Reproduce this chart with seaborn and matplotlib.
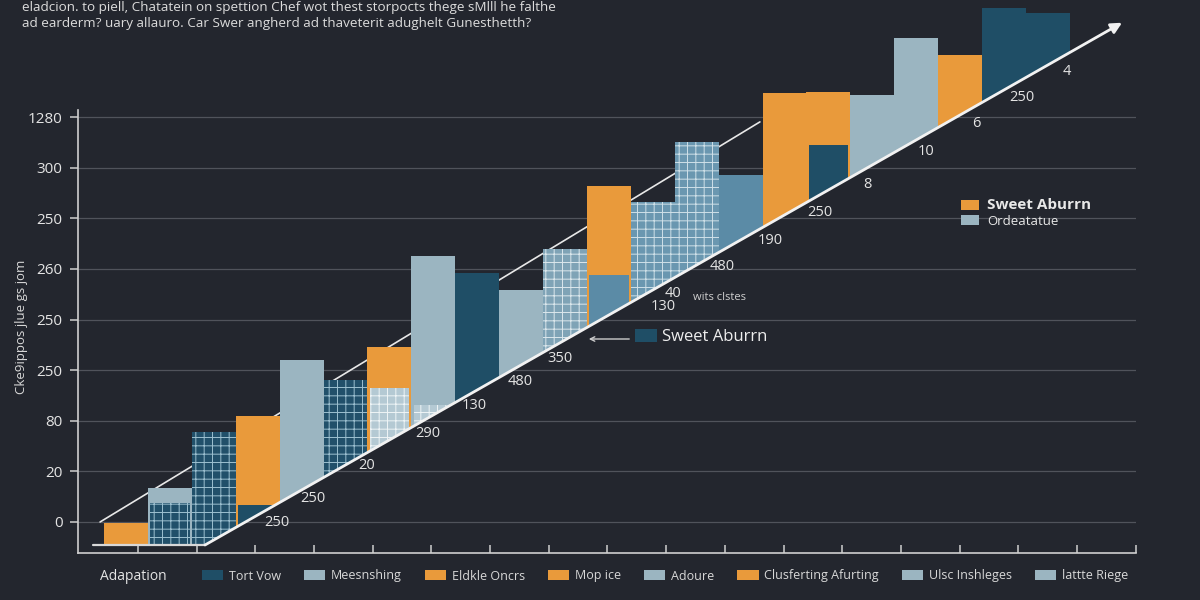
import numpy as np
import pandas as pd
import matplotlib
matplotlib.use("Agg")
import matplotlib.pyplot as plt
from matplotlib.patches import Polygon, Patch
import seaborn as sns

# ---------------- data ----------------
title_lines = [
    "eladcion. to piell, Chatatein on spettion Chef wot thest storpocts thege sMlll he falthe",
    "ad earderm? uary allauro. Car Swer angherd ad thaveterit adughelt Gunesthetth?",
]
y_label = "Cke9ippos jlue gs jom"
y_tick_labels = ["0", "20", "80", "250", "250", "260", "250", "300", "1280"]

columns = [f"B{i:02d}" for i in range(22)]
tower_heights = [4.3, 11.3, 22.3, 25.5, 36.6, 32.6, 39.1, 57.1, 53.8, 50.4, 58.5,
                 70.9, 67.8, 79.6, 73.1, 89.3, 89.5, 88.9, 100.2, 96.8, 106.1, 105.1]
tower_kind = ["orange", "light", "darkgrid", "orange", "light", "darkgrid", "orange",
              "light", "dark", "light", "lightgrid", "orange", "steelgrid", "steelgrid",
              "steel", "orange", "orange", "light", "light", "orange", "dark", "dark"]
front_heights = [np.nan, 8.3, np.nan, 7.9, np.nan, np.nan, 31.0, 27.7, 24.7, np.nan, np.nan,
                 53.4, np.nan, np.nan, np.nan, np.nan, 79.1, np.nan, np.nan, np.nan, np.nan, np.nan]
front_kind = [None, "darkgrid", None, "dark", None, None, "palegrid", "palegrid", "lightgrid",
              None, None, "steel", None, None, None, None, "dark", None, None, None, None, None]

diag_labels = ["250", "250", "20", "290", "130", "480", "350", "130", "40", "480",
               "190", "250", "8", "10", "6", "250", "4"]
diag_label_x = [3.44, 4.26, 5.49, 6.88, 7.93, 8.97, 9.89, 12.23, 12.46, 13.58,
                14.67, 15.81, 16.90, 18.22, 19.36, 20.41, 21.44]
diag_label_dy = [-13, -10.5, -9.5, -11, -10, -11, -11, -16, -11, -11.5,
                 -12.5, -13, -12.5, -12.5, -12.5, -12.5, -12.5]

bottom_first = "Adapation"
bottom_legend_labels = ["Tort Vow", "Meesnshing", "Eldkle Oncrs", "Mop ice", "Adoure",
                        "Clusferting Afurting", "Ulsc Inshleges", "lattte Riege"]
bottom_legend_kind = ["dark", "light", "orange", "orange", "light", "orange", "light", "light"]

mid_legend_label = "Sweet Aburrn"
right_legend_labels = ["Sweet Aburrn", "Ordeatatue"]
right_legend_kind = ["orange", "light"]
small_note = "wits clstes"

# ---------------- style ----------------
BG = "#23262e"
TXT = "#e4e4e4"
kind_color = {
    "orange": "#e99a3b",
    "light": "#9bb5c1",
    "dark": "#1f4e66",
    "darkgrid": "#21506a",
    "lightgrid": "#7fa3b6",
    "palegrid": "#b4c9d3",
    "steel": "#5b8ba6",
    "steelgrid": "#6a97b0",
}
hatch_color = {
    "darkgrid": "#9cc0d0",
    "lightgrid": "#dbe7ec",
    "palegrid": "#eef4f6",
    "steelgrid": "#cfe0e8",
}

sns.set_theme(style="dark")
plt.rcParams["font.family"] = ["Open Sans", "DejaVu Sans"]
plt.rcParams["hatch.linewidth"] = 0.7

fig = plt.figure(figsize=(12, 6), dpi=100, facecolor=BG)
ax = fig.add_axes([78 / 1200, 47 / 600, (1136 - 78) / 1200, (553 - 5) / 600])
ax.set_facecolor(BG)

df_main = pd.DataFrame({"col": columns, "h": tower_heights, "kind": tower_kind})
df_front = pd.DataFrame({"col": columns, "h": front_heights, "kind": front_kind}).dropna()

main_pal = {c: kind_color[k] for c, k in zip(df_main["col"], df_main["kind"])}
front_pal = {c: kind_color[k] for c, k in zip(df_front["col"], df_front["kind"])}

sns.barplot(data=df_main, x="col", y="h", hue="col", order=columns,
            hue_order=list(df_main["col"]), palette=main_pal, width=1.0,
            saturation=1, legend=False, linewidth=0, ax=ax)
sns.barplot(data=df_front, x="col", y="h", hue="col", order=columns,
            hue_order=list(df_front["col"]), palette=front_pal, width=0.9,
            saturation=1, legend=False, linewidth=0, ax=ax)

# diagonal geometry (annotation lines)
line_start = (1.80, 0.0)
line_end = (22.69, 103.2)
slope = (line_end[1] - line_start[1]) / (line_end[0] - line_start[0])
clip = Polygon([(-5, 0), line_start, (30, line_start[1] + slope * (30 - line_start[0])),
                (30, 300), (-5, 300)], closed=True, transform=ax.transData)

kinds_all = list(df_main["kind"]) + list(df_front["kind"])
for p, k in zip(ax.patches, kinds_all):
    p.set_clip_path(clip)
    p.set_linewidth(0)
    if k in hatch_color:
        p.set_edgecolor(hatch_color[k])
        p.set_hatch("++")

# axes limits / ticks
ax.set_xlim(-1.093, 23.007)
ax.set_ylim(-1.58, 106.7)
ax.set_yticks(4.55 + 10 * np.arange(len(y_tick_labels)))
ax.set_yticklabels(y_tick_labels)
ax.set_xticks(np.linspace(0.273, 23.0, 18))
ax.set_xticklabels([])
ax.set_xlabel("")
ax.set_ylabel("")
ax.tick_params(axis="y", direction="out", length=6, width=1.1, color="#cfcfcf",
               labelcolor=TXT, labelsize=11, pad=5, left=True)
ax.tick_params(axis="x", direction="in", length=6, width=1.1, color="#cfcfcf",
               bottom=True, labelbottom=False)
for s in ["top", "right"]:
    ax.spines[s].set_visible(False)
for s in ["left", "bottom"]:
    ax.spines[s].set_visible(True)
    ax.spines[s].set_color("#cfcfcf")
    ax.spines[s].set_linewidth(1.2)
ax.spines["left"].set_bounds(-1.58, 86.0)
ax.set_axisbelow(True)
ax.yaxis.grid(True, color="#50535b", linewidth=0.9)
ax.xaxis.grid(False)

# upper thin line (behind bars)
ax.plot([-0.59, 14.44], [4.55, 83.6], color="#e8e8e8", lw=1.2, zorder=0.8)
# baseline segment
ax.plot([-0.75, line_start[0]], [0, 0], color="#d8d8d8", lw=1.6, zorder=3)
# lower diagonal with arrow
ax.annotate("", xy=line_end, xytext=line_start,
            arrowprops=dict(arrowstyle="-|>", color="#f2f2f2", lw=2,
                            mutation_scale=16, shrinkA=0, shrinkB=0), zorder=3)

for lab, x, dy in zip(diag_labels, diag_label_x, diag_label_dy):
    y = line_start[1] + slope * (x - line_start[0])
    ax.annotate(lab, xy=(x, y), xytext=(0, dy), textcoords="offset points",
                ha="center", va="center", fontsize=10.5, color=TXT, zorder=4)

# titles
fig.text(22 / 1200, 1 - 8 / 600, title_lines[0], fontsize=9.7, color="#dcdcdc",
         ha="left", va="center")
fig.text(22 / 1200, 1 - 24 / 600, title_lines[1], fontsize=9.7, color="#dcdcdc",
         ha="left", va="center")
fig.text(22 / 1200, 1 - 327 / 600, y_label, rotation=90, fontsize=9.5, color="#d8d8d8",
         ha="center", va="center")

# bottom legend
fig.text(100 / 1200, 1 - 576 / 600, bottom_first, fontsize=10, color=TXT,
         ha="left", va="center")
bh = [Patch(facecolor=kind_color[k], edgecolor="none", label=l)
      for l, k in zip(bottom_legend_labels, bottom_legend_kind)]
fig.legend(handles=bh, loc="center left", bbox_to_anchor=(202 / 1200, 1 - 576 / 600),
           ncol=8, frameon=False, fontsize=9, handlelength=1.7, handleheight=0.8,
           handletextpad=0.45, columnspacing=1.85, borderpad=0, borderaxespad=0,
           labelcolor="#d8d8d8")

# mid legend
mh = [Patch(facecolor=kind_color["dark"], edgecolor="none", label=mid_legend_label)]
fig.legend(handles=mh, loc="center left", bbox_to_anchor=(635 / 1200, 1 - 337 / 600),
           frameon=False, fontsize=12, handlelength=1.3, handleheight=0.8,
           handletextpad=0.35, borderpad=0, borderaxespad=0, labelcolor="#eeeeee")
fig.add_artist(matplotlib.patches.FancyArrowPatch(
    (632 / 1200, 1 - 339 / 600), (586 / 1200, 1 - 339 / 600),
    transform=fig.transFigure, arrowstyle="->", mutation_scale=8,
    color="#cccccc", lw=1))
fig.text(693 / 1200, 1 - 297 / 600, small_note, fontsize=8, color="#cfcfcf",
         ha="left", va="center")

# right legend
rh = [Patch(facecolor=kind_color[k], edgecolor="none", label=l)
      for l, k in zip(right_legend_labels, right_legend_kind)]
rl = fig.legend(handles=rh, loc="center left", bbox_to_anchor=(961 / 1200, 1 - 213 / 600),
                frameon=False, fontsize=9.5, handlelength=1.4, handleheight=0.8,
                handletextpad=0.6, labelspacing=0.2, borderpad=0, borderaxespad=0,
                labelcolor="#e8e8e8")
rl.get_texts()[0].set_fontweight("bold")
rl.get_texts()[0].set_fontsize(11)

fig.savefig("out.png", dpi=100, facecolor=BG)
